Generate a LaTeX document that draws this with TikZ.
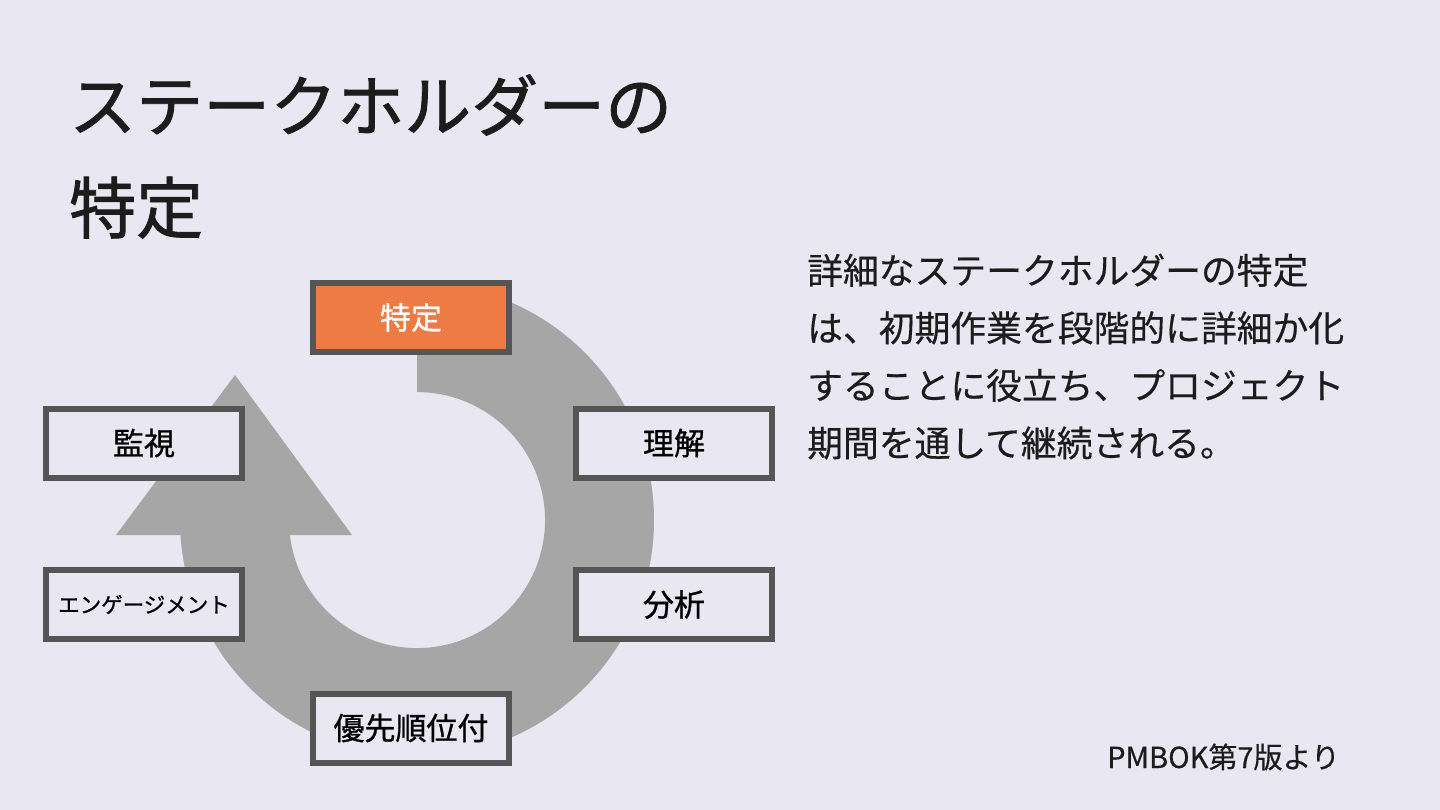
\documentclass[tikz,border=0pt]{standalone}
\usepackage{fontspec}
\setmainfont{Noto Sans CJK JP}
\newfontfamily\titlefont[FakeBold=1.2]{Noto Sans CJK JP}
\newfontfamily\boxfont[FakeBold=0.9]{Noto Sans CJK JP}
\newfontfamily\bodyfont[FakeBold=0.4]{Noto Sans CJK JP}
\definecolor{bg}{HTML}{E9E8F2}
\definecolor{ringgray}{HTML}{A6A6A6}
\definecolor{bordergray}{HTML}{555555}
\definecolor{orangefill}{HTML}{EE7A44}
\definecolor{ink}{HTML}{1C1C1C}
\tikzset{
  stagebox/.style={draw=bordergray, line width=6pt, fill=bg, minimum width=196pt,
    minimum height=69pt, inner sep=0pt, text=black, font=\boxfont\fontsize{31pt}{36pt}\selectfont},
  titletext/.style={anchor=base west, inner sep=0pt, text=ink, font=\titlefont\fontsize{67pt}{80pt}\selectfont},
  bodytext/.style={anchor=base west, inner sep=0pt, text=ink, font=\bodyfont\fontsize{35.8pt}{40pt}\selectfont},
}
\begin{document}
\begin{tikzpicture}[x=1pt,y=1pt]
\useasboundingbox (0,0) rectangle (1440,-810);
\fill[bg] (0,0) rectangle (1440,-810);

% title
\node[titletext] (title1) at (69,-131) {ステークホルダーの};
\node[titletext] (title2) at (69,-233) {特定};

% cycle arrow
\fill[ringgray] (417,-392) -- (417,-283)
  arc[start angle=90, end angle=-176.4, radius=237]
  -- (289.9,-535)
  arc[start angle=-173.3, end angle=90, radius=128] -- cycle;
\fill[ringgray] (116,-535) -- (235,-375) -- (352,-535) -- cycle;

% stages
\node[stagebox, fill=orangefill, text=white] (identify) at (411,-317.5) {特定};
\node[stagebox] (understand) at (674,-443) {理解};
\node[stagebox] (analyze) at (674,-604.5) {分析};
\node[stagebox] (prioritize) at (411,-728) {優先順位付};
\node[stagebox, font=\boxfont\fontsize{21.5pt}{26pt}\selectfont] (engage) at (144,-604.5) {エンゲージメント};
\node[stagebox] (monitor) at (144,-443) {監視};

% description
\node[bodytext] (d1) at (807,-284) {詳細なステークホルダーの特定};
\node[bodytext] (d2) at (807,-341.5) {は、初期作業を段階的に詳細か化};
\node[bodytext] (d3) at (807,-399) {することに役立ち、プロジェクト};
\node[bodytext] (d4) at (807,-456.5) {期間を通して継続される。};

% source
\node[anchor=base west, inner sep=0pt, text=ink, font=\bodyfont\fontsize{29pt}{34pt}\selectfont] (src) at (1107,-768) {PMBOK第7版より};
\end{tikzpicture}
\end{document}
